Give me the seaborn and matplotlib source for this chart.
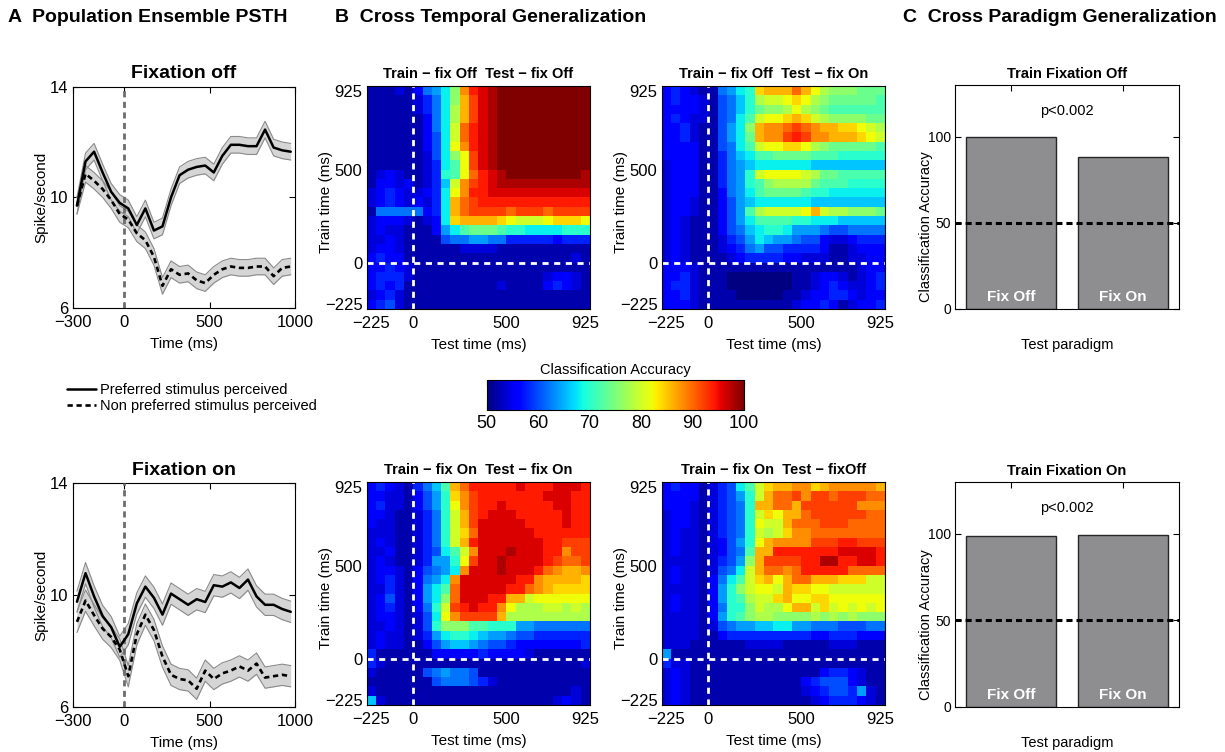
import numpy as np
import pandas as pd
import matplotlib
matplotlib.use("Agg")
import matplotlib.pyplot as plt
import seaborn as sns
from matplotlib.lines import Line2D

# ---------------- Panel A: population PSTH ----------------
PSTH_TIME = [-275, -225, -175, -125, -75, -25, 25, 75, 125, 175, 225, 275, 325,
             375, 425, 475, 525, 575, 625, 675, 725, 775, 825, 875, 925, 975]
PREF_FIX_OFF = [9.7, 11.3, 11.65, 10.9, 10.2, 9.8, 9.6, 9.0, 9.6, 8.8, 8.95, 10.0, 10.8,
                11.0, 11.1, 11.15, 10.9, 11.5, 11.9, 11.9, 11.85, 11.85, 12.45, 11.8, 11.7, 11.65]
NONPREF_FIX_OFF = [9.7, 10.85, 10.6, 10.3, 9.9, 9.4, 9.2, 8.7, 8.45, 7.85, 6.8, 7.4, 7.2,
                   7.25, 7.0, 6.9, 7.2, 7.4, 7.5, 7.45, 7.45, 7.5, 7.5, 7.15, 7.45, 7.5]
PREF_FIX_ON = [9.76, 10.78, 9.95, 9.25, 8.85, 8.15, 8.6, 9.7, 10.3, 9.9, 9.3, 10.05, 9.85,
               9.65, 9.85, 9.75, 10.35, 10.3, 10.45, 10.25, 10.55, 9.95, 9.65, 9.65, 9.5, 9.4]
NONPREF_FIX_ON = [9.04, 9.8, 9.28, 8.8, 8.5, 8.05, 7.1, 8.6, 9.3, 8.75, 7.8, 7.15, 7.0,
                  6.95, 6.65, 7.3, 7.0, 7.2, 7.3, 7.45, 7.3, 7.55, 7.05, 7.1, 7.15, 7.1]
SEM_FIX_OFF = 0.3
SEM_FIX_ON = 0.38
PSTH_TITLES = ["Fixation off", "Fixation on"]
LEGEND_LABELS = ["Preferred stimulus perceived", "Non preferred stimulus perceived"]

# ---------------- Panel B: cross-temporal generalization ----------------
# Each character is one 50 ms train/test bin: 'a' = 50 % ... 'z' = 100 % (2 % steps).
# Rows run from the latest train bin (top, 925 ms) to the earliest (bottom, -225 ms);
# columns run from the earliest test bin (-225 ms) to the latest (925 ms).
LEVELS = "abcdefghijklmnopqrstuvwxyz"
BIN_FIRST, BIN_LAST, BIN_WIDTH = -225, 925, 50

HEAT_OFF_OFF = [
    "bbbcbdghjntwxyzzzzzzzzzz",
    "bbbbbcegjnsvxyzzzzzzzzzz",
    "bbbbbcegjosvxyzzzzzzzzzz",
    "bbbbbbdgjosvxyzzzzzzzzzz",
    "bbbbbbdgjpuwxyzzzzzzzzzz",
    "bbbbbbdfjpuwxyzzzzzzzzzz",
    "bbbbbbdfjqtwxyzzzzzzzzzz",
    "bbbbbbcfjnqvxyzzzzzzzzzz",
    "bbbbbbcejlqvxyzzzzzzzzzz",
    "bcdcbbceklquwxyzzzzzzzzy",
    "bddcdbceiptvwxyyyyyyyyyy",
    "cdedccdejqtwwxxxxxxxxxxx",
    "cdedcdcejsuvwwwwwwwwwwww",
    "bgggggdejsuvvvvuvvvuvvvv",
    "cdddcbcdjrssssrqpppqrrrq",
    "cdccbbbdhjlmmmlkkjjjjkkk",
    "ccdcbbbbfgghhggeeeeedeee",
    "cddcbbbbbbccccbbbbbbbbbb",
    "deddbbbbbbbbbbbbbbbbbbcb",
    "ddedcbbbbbbbbbbbbbbbbbbb",
    "deeecbbbbbbbbbbbbbbcddcb",
    "dedebbbbbbbbbbcbbbbdedcb",
    "cdecbbbbbbbbbbbbbbbbbbbb",
    "defcbbbbbbbbbbbbbbbbbbbb",
]
HEAT_OFF_ON = [
    "dedcbbghjkrsssusqonnnmmm",
    "deddcbfgikoppqrqonmmmmml",
    "ddddcbfgikmnnoqonmllllll",
    "dedccbfgjlpqqrsrponnnnmm",
    "ddecbbfhjnsttuvutssrrqpo",
    "ddecbbfhjmsttvwvttsssrqp",
    "ddddbbfgjlpqqrrqonmmmmml",
    "ddddbbegijllmmmmlllkkkkk",
    "cdddbbeghijjjjjjiiiiiiii",
    "cdddbbeghkpqqqqpommlllll",
    "cdddbbeghklnoooomlllkkkk",
    "cdddbbdghjlmmmmlkkjjjjjj",
    "cddcbbdfhijjjjjjiiiiiiii",
    "cddcbbdfhloppppqspoonnnm",
    "cdcbbbdfhjllllkkjjjiiiii",
    "cdcbbbdfgijkkjhhhgffgggg",
    "cdcbbbcefhjihhgffdccdeee",
    "cdcbbbcdeghffeeeedbbcddd",
    "cdcbbbbcdeeeeddcccbbccdd",
    "dddcbbbbbbbbbbbbbbbbbcdd",
    "ddecbbbaaaaaaabbcddcbcde",
    "deecbbbaaaaaaabbcdedccde",
    "ddecbbbbaaaaabbcddeedcdd",
    "dddcbbbbbbbbbbcddedbcdde",
]
HEAT_ON_ON = [
    "dedcbegilsuwwwwwxwwwxxxw",
    "ddccbdfhkrtvwwwwwwwxxxww",
    "deccbdfhkqtvwwxwwwwwxxww",
    "ddcbbcegkpsvwxxxwwwwwxww",
    "dccbbcegkpsvxxxxxwwwwxww",
    "cccbbcegkpruxxxxxxwwwwww",
    "cdcbbcegkpswxxxxxxxwwvvv",
    "ccdbbcefjlptxxxyxxxwwtvv",
    "cdcbbcehhkqvxxyxxxxwvuuv",
    "cddcbdfghjtxxxyxxxwutsst",
    "cdecbdghjtxxxxxxwwtssssr",
    "ccecbdhjluxxxxxwwutsrrrr",
    "cdfcbdhjnuxxxwwsspqqqqqq",
    "cdecbdgkpvwxwwtqoooppopo",
    "cddcbcfjqtvvvvsooooooooo",
    "ccdcbcfknnnllkkkhhgggggg",
    "cdccbcehjkkjihhgffeeeeee",
    "cdccbbdfhiihgffeddddddde",
    "ebbbbbbdddddeddddcbbbbbb",
    "ecbbbbbbbbbbbbbbbbbbbbbc",
    "cbbbbbfghggfbbbbbbbbbbbb",
    "bbbbbbbfgggfecbbbbbbbbbb",
    "cbbbbbbbbbbbbbbbbbbbbbcb",
    "icbbbbbbbbbbbbbbbbbbcdcb",
]
HEAT_ON_OFF = [
    "deddbcefjlprssttrsttttts",
    "ddddbcefhkpsuuvtvvuvvvuu",
    "dddcbcefgkssuusvvvvvvttt",
    "cddcbcefgkprqssuvvvvvvuu",
    "cddcbcefgkqppsuuuvvvuuuu",
    "cdccbcefgkpoprttuuuuuuuu",
    "cdccbcdfhkqsttttvvvwwvvv",
    "cdccbcdfglsswwwwwwwxxxxw",
    "ccccbcefhnsvvvvwwyywwxxw",
    "cdccbcfgjpsuutuwwwwwuuuu",
    "cdccbdgjlprsqsuusssrrrpp",
    "ccccbdhknpqqpsrrqqpppppp",
    "cdccbdhklopprsqqrrqqqqqq",
    "cdccbdgkknpooqssprpqpqpq",
    "ccccbdhklnoonnnnonononnn",
    "ccccbcfghhiijjhhgggfffgg",
    "ccccbbdeeeeeeeeeddeeeddd",
    "cccbbbbbbccccbbbbbcccbbb",
    "hbbbbbbbbbbbbbbbbbbbbbbb",
    "eccbbbbbbbbbbbbbbbbbbbbb",
    "cdcbbbbbbbbbbbbbbdeedcbb",
    "cdcbbbbbbbbbbbbdefffdcbb",
    "cdcbbbbbbbbbbbbcdeffehcb",
    "cdcbbbbbbbbbbbbbcdeeedcb",
]
HEAT_TITLES = ["Train \u2212 fix Off  Test \u2212 fix Off",
               "Train \u2212 fix Off  Test \u2212 fix On",
               "Train \u2212 fix On  Test \u2212 fix On",
               "Train \u2212 fix On  Test \u2212 fixOff"]
HEAT_TICKS = [-225, 0, 500, 925]
CBAR_TICKS = [50, 60, 70, 80, 90, 100]

# ---------------- Panel C: cross-paradigm generalization ----------------
TEST_PARADIGMS = ["Fix Off", "Fix On"]
ACC_TRAIN_FIX_OFF = [100.0, 88.3]
ACC_TRAIN_FIX_ON = [98.8, 99.6]
BAR_TITLES = ["Train Fixation Off", "Train Fixation On"]
P_VALUE_TEXT = "p<0.002"
CHANCE_LEVEL = 50

PANEL_HEADERS = ["A  Population Ensemble PSTH", "B  Cross Temporal Generalization",
                 "C  Cross Paradigm Generalization"]

# ---------------- style ----------------
sns.set_theme(style="white", rc={
    "axes.edgecolor": "black", "axes.linewidth": 0.8, "text.color": "black",
    "axes.labelcolor": "black", "xtick.color": "black", "ytick.color": "black",
})
plt.rcParams["font.family"] = ["Liberation Sans", "DejaVu Sans"]

W, H = 1225, 752
fig = plt.figure(figsize=(W / 100, H / 100), dpi=100)


def box(left, top, right, bottom):
    """Axes rectangle from pixel edges (origin top-left)."""
    return [left / W, 1 - bottom / H, (right - left) / W, (bottom - top) / H]


def matlab_ticks(ax, size):
    ax.tick_params(direction="in", length=4, width=0.8, top=True, right=True,
                   bottom=True, left=True, labelsize=size, pad=3)
    for s in ax.spines.values():
        s.set_visible(True)
        s.set_color("black")
        s.set_linewidth(0.8)


def draw_psth(ax, title, pref, nonpref, sem):
    t = np.array(PSTH_TIME, float)
    for y in (np.array(pref), np.array(nonpref)):
        ax.fill_between(t, y - sem, y + sem, color="#d5d5d5", lw=0, zorder=1)
        ax.plot(t, y - sem, color="#8a8a8a", lw=0.8, zorder=2)
        ax.plot(t, y + sem, color="#8a8a8a", lw=0.8, zorder=2)
    ax.axvline(0, color="#6d6d6d", lw=2.0, ls=(0, (2.2, 1.6)), zorder=3)
    sns.lineplot(x=t, y=pref, color="black", lw=1.8, ax=ax, zorder=4)
    sns.lineplot(x=t, y=nonpref, color="black", lw=1.9, linestyle=(0, (2, 1.4)),
                 ax=ax, zorder=4)
    ax.set_xlim(-300, 1000)
    ax.set_ylim(6, 14)
    ax.set_xticks([-300, 0, 500, 1000])
    ax.set_yticks([6, 10, 14])
    ax.set_xlabel("Time (ms)", fontsize=11, labelpad=5)
    ax.set_ylabel("Spike/second", fontsize=11)
    ax.yaxis.set_label_coords(-0.108, 0.5)
    ax.set_title(title, fontsize=14, weight="bold", pad=6)
    matlab_ticks(ax, 12)
    ax.tick_params(axis="x", pad=5)


def decode(rows):
    return np.array([[50 + 2 * LEVELS.index(ch) for ch in r] for r in rows], float)


def draw_heat(ax, title, rows, cax=None):
    vals = decode(rows)
    n_rows, n_cols = vals.shape
    test_t = [BIN_FIRST + i * BIN_WIDTH for i in range(n_cols)]
    train_t = [BIN_LAST - i * BIN_WIDTH for i in range(n_rows)]
    df = pd.DataFrame(vals, index=train_t, columns=test_t)
    kw = dict(cmap="jet", vmin=50, vmax=100, xticklabels=False, yticklabels=False, ax=ax)
    if cax is not None:
        sns.heatmap(df, cbar=True, cbar_ax=cax,
                    cbar_kws=dict(orientation="horizontal", ticks=CBAR_TICKS), **kw)
    else:
        sns.heatmap(df, cbar=False, **kw)

    # heatmap cells are unit-spaced; convert ms to cell coordinates (bin centres)
    def col_pos(ms):
        return (ms - BIN_FIRST) / BIN_WIDTH + 0.5

    def row_pos(ms):
        return (BIN_LAST - ms) / BIN_WIDTH + 0.5

    dash = (0, (2.2, 2.0))
    ax.axvline(col_pos(0), color="white", lw=2.0, ls=dash)
    ax.axhline(row_pos(0), color="white", lw=2.0, ls=dash)
    labels = [f"{v}".replace("-", "\u2212") for v in HEAT_TICKS]
    ax.set_xticks([col_pos(v) for v in HEAT_TICKS])
    ax.set_xticklabels(labels, rotation=0)
    ax.set_yticks([row_pos(v) for v in HEAT_TICKS])
    ax.set_yticklabels(labels, rotation=0)
    ax.set_xlabel("Test time (ms)", fontsize=11, labelpad=5)
    ax.set_ylabel("Train time (ms)", fontsize=11)
    ax.yaxis.set_label_coords(-0.152, 0.48)
    ax.set_title(title, fontsize=10.5, weight="bold", pad=6)
    matlab_ticks(ax, 12)
    ax.tick_params(length=3)
    ax.tick_params(axis="x", pad=5)


def draw_bars(ax, title, acc):
    df = pd.DataFrame({"paradigm": TEST_PARADIGMS, "accuracy": acc})
    sns.barplot(data=df, x="paradigm", y="accuracy", color="#8e8e91", saturation=1,
                edgecolor="#262626", linewidth=1.0, width=0.8, errorbar=None, ax=ax)
    ax.axhline(CHANCE_LEVEL, color="black", lw=2.2, ls=(0, (2, 1.3)), zorder=5)
    for i, name in enumerate(TEST_PARADIGMS):
        ax.text(i, 7, name, color="white", weight="bold", fontsize=11,
                ha="center", va="center", zorder=6)
    ax.text(0.5, 115, P_VALUE_TEXT, ha="center", va="center", fontsize=10.5)
    ax.set_xlim(-0.5, 1.5)
    ax.set_ylim(0, 130)
    ax.set_yticks([0, 50, 100])
    ax.set_xticks([0, 1])
    ax.set_xticklabels(["", ""])
    ax.set_xlabel("Test paradigm", fontsize=10.5, labelpad=18)
    ax.set_ylabel("Classification Accuracy", fontsize=10.5)
    ax.yaxis.set_label_coords(-0.098, 0.366)
    ax.set_title(title, fontsize=10.5, weight="bold", pad=5)
    matlab_ticks(ax, 10)


# ---------------- layout ----------------
ax_psth = [fig.add_axes(box(72.7, 86.7, 295, 308)), fig.add_axes(box(72.7, 483, 295, 707))]
ax_heat = [fig.add_axes(box(366.7, 86, 590, 309)), fig.add_axes(box(661.7, 86, 885, 309)),
           fig.add_axes(box(366.7, 482, 590, 705)), fig.add_axes(box(661.7, 482, 885, 705))]
ax_cbar = fig.add_axes(box(486.7, 380, 744, 410))
ax_bar = [fig.add_axes(box(955, 85, 1179, 309)), fig.add_axes(box(955, 482, 1179, 707))]

draw_psth(ax_psth[0], PSTH_TITLES[0], PREF_FIX_OFF, NONPREF_FIX_OFF, SEM_FIX_OFF)
draw_psth(ax_psth[1], PSTH_TITLES[1], PREF_FIX_ON, NONPREF_FIX_ON, SEM_FIX_ON)

heat_data = [HEAT_OFF_OFF, HEAT_OFF_ON, HEAT_ON_ON, HEAT_ON_OFF]
for i, (ax, rows) in enumerate(zip(ax_heat, heat_data)):
    draw_heat(ax, HEAT_TITLES[i], rows, cax=ax_cbar if i == 0 else None)

cbar = ax_heat[0].collections[0].colorbar
cbar.outline.set_visible(True)
cbar.outline.set_linewidth(0.8)
cbar.outline.set_edgecolor("black")
ax_cbar.tick_params(direction="in", length=4, width=0.8, top=True, bottom=True,
                    labelsize=13, color="black")
ax_cbar.set_title("Classification Accuracy", fontsize=10.5, pad=4)

draw_bars(ax_bar[0], BAR_TITLES[0], ACC_TRAIN_FIX_OFF)
draw_bars(ax_bar[1], BAR_TITLES[1], ACC_TRAIN_FIX_ON)

# legend for the PSTH line styles
handles = [Line2D([], [], color="black", lw=1.8),
           Line2D([], [], color="black", lw=1.9, linestyle=(0, (2, 1.4)))]
fig.legend(handles, LEGEND_LABELS, loc="upper left", bbox_to_anchor=(67 / W, 1 - 383 / H),
           frameon=False, fontsize=10.5, handlelength=2.0, handletextpad=0.25,
           labelspacing=0.15, borderpad=0, borderaxespad=0)

# panel headers
for x_px, text in zip([8, 335, 903], PANEL_HEADERS):
    fig.text(x_px / W, 1 - 17 / H, text, fontsize=14, weight="bold", ha="left", va="center")

fig.savefig("out.png", dpi=100)
